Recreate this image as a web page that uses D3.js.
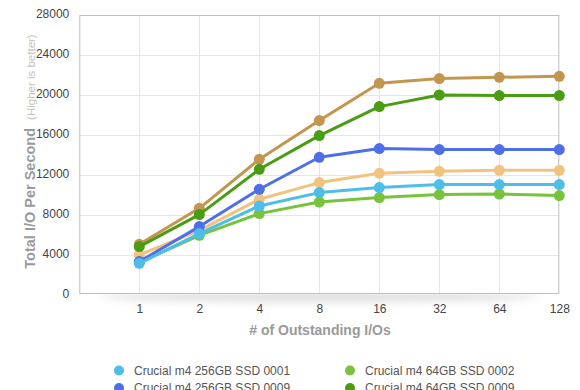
<!DOCTYPE html>
<html><head><meta charset="utf-8">
<script src="https://cdn.jsdelivr.net/npm/d3@7"></script>
<style>body{margin:0;background:#fff;}svg{display:block;font-family:"Liberation Sans",Arial,Helvetica,sans-serif;}</style>
</head><body>
<svg id="c" width="580" height="390"></svg>
<script>
const categories = ["1","2","4","8","16","32","64","128"];
const yTicks = [0,4000,8000,12000,16000,20000,24000,28000];
const seriesNames = ["Crucial m4 256GB SSD 0001","Crucial m4 64GB SSD 0002","Crucial m4 256GB SSD 0009","Crucial m4 64GB SSD 0009","Crucial m4 128GB SSD 0002","Crucial m4 128GB SSD 0009"];
const seriesColors = ["#4dbde9","#78c23c","#4f6fe9","#4a9c12","#f0c47f","#c2964f"];
const s256_0001 = [3200,6170,8930,10270,10770,11070,11070,11070];
const s64_0002  = [3270,6000,8170,9330,9770,10070,10130,9970];
const s256_0009 = [3370,6870,10600,13800,14670,14570,14570,14570];
const s64_0009  = [4870,8070,12600,15970,18870,20030,19970,19970];
const s128_0002 = [4030,6500,9600,11270,12200,12400,12500,12500];
const s128_0009 = [5100,8700,13600,17470,21200,21670,21800,21900];
const seriesValues = [s256_0001,s64_0002,s256_0009,s64_0009,s128_0002,s128_0009];
const drawOrder = [5,4,3,1,2,0];

(function(){
const svg = d3.select("#c");
const x = d3.scalePoint().domain(categories).range([139.3,559.3]);
const y = d3.scaleLinear().domain([0,28000]).range([295.3,15.3]);
const pl = x.range()[0]-x.step(), pr = x.range()[1], pt = y(28000), pb = 294.3;

// shadow
const defs = svg.append("defs");
const f = defs.append("filter").attr("id","blur").attr("x","-20%").attr("y","-200%").attr("width","140%").attr("height","500%");
f.append("feGaussianBlur").attr("stdDeviation","6 4");
svg.append("ellipse").attr("cx",(pl+pr)/2).attr("cy",pb+2).attr("rx",(pr-pl)/2-20).attr("ry",6)
  .attr("fill","#000").attr("opacity",0.12).attr("filter","url(#blur)");
svg.append("rect").attr("x",pl).attr("y",pt).attr("width",pr-pl).attr("height",pb-pt).attr("fill","#fff");

// grid
svg.append("g").selectAll("line").data(yTicks.slice(1,-1)).join("line")
  .attr("x1",pl).attr("x2",pr).attr("y1",d=>Math.round(y(d))+0.5).attr("y2",d=>Math.round(y(d))+0.5)
  .attr("stroke","#e6e6e6").attr("stroke-width",1);
svg.append("g").selectAll("line").data(categories.slice(0,-1)).join("line")
  .attr("x1",d=>Math.round(x(d))+0.5).attr("x2",d=>Math.round(x(d))+0.5).attr("y1",pt).attr("y2",pb)
  .attr("stroke","#e6e6e6").attr("stroke-width",1);
svg.append("rect").attr("x",pl+0.5).attr("y",Math.round(pt)+0.5).attr("width",pr-pl-1).attr("height",pb-pt-1)
  .attr("fill","none").attr("stroke","#bdbdbd").attr("stroke-width",1);

// axes
const yAx = svg.append("g").attr("transform",`translate(${pl},0)`)
  .call(d3.axisLeft(y).tickValues(yTicks).tickSize(0).tickPadding(10).tickFormat(d3.format("d")));
yAx.select(".domain").remove();
yAx.selectAll("text").attr("font-size",12).attr("fill","#444").attr("font-family","Liberation Sans, Arial, sans-serif").attr("dy","0.2em");
const xAx = svg.append("g").attr("transform",`translate(0,${pb})`)
  .call(d3.axisBottom(x).tickSize(0).tickPadding(10));
xAx.select(".domain").remove();
xAx.selectAll("text").attr("font-size",12).attr("fill","#444").attr("font-family","Liberation Sans, Arial, sans-serif");

svg.append("text").attr("x",320).attr("y",335).attr("text-anchor","middle")
  .attr("font-size",14).attr("font-weight","bold").attr("fill","#9a9a9a").text("# of Outstanding I/Os");
const yt = svg.append("text").attr("transform","translate(34.5,151.5) rotate(-90)").attr("text-anchor","middle");
yt.append("tspan").attr("font-size",14.5).attr("font-weight","bold").attr("fill","#9a9a9a").text("Total I/O Per Second");
yt.append("tspan").attr("font-size",11.5).attr("fill","#c4c4c4").attr("dx",8).text("(Higher is better)");

// lines
const line = d3.line().x((d,i)=>x(categories[i])).y(d=>y(d));
drawOrder.forEach(k=>{
  const g = svg.append("g");
  g.append("path").datum(seriesValues[k]).attr("d",line).attr("fill","none")
    .attr("stroke",seriesColors[k]).attr("stroke-width",3).attr("stroke-linejoin","round");
  g.selectAll("circle").data(seriesValues[k]).join("circle")
    .attr("cx",(d,i)=>x(categories[i])).attr("cy",d=>y(d)).attr("r",5.5).attr("fill",seriesColors[k]);
});

// legend
const lg = svg.append("g");
seriesNames.forEach((n,i)=>{
  const col = i%2, row = Math.floor(i/2);
  const lx = col===0?119:350, ly = 370.5+row*17.5;
  lg.append("circle").attr("cx",lx).attr("cy",ly).attr("r",5).attr("fill",seriesColors[i]);
  lg.append("text").attr("x",lx+15).attr("y",ly+4.3).attr("font-size",12).attr("fill","#555").text(n);
});
})();
</script>
</body></html>
